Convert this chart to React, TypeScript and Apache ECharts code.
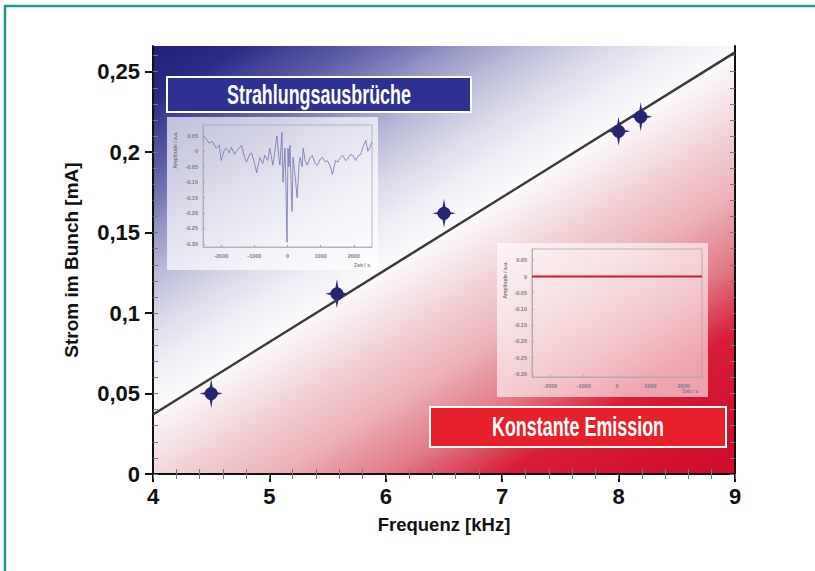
import React, { useEffect, useRef } from "react";
import * as echarts from "echarts";

// Main measurement data
const freqKHz = [4.5, 5.58, 6.5, 8.0, 8.19];
const currentMA = [0.05, 0.112, 0.162, 0.213, 0.222];
const freqErr = [0.1, 0.1, 0.1, 0.1, 0.1];
const currentErr = [0.009, 0.009, 0.009, 0.009, 0.009];

// Fit line end points
const fitX = [4, 9];
const fitY = [0.037, 0.262];

// Axis tick labels
const yTicks = [0, 0.05, 0.1, 0.15, 0.2, 0.25];

// Inset 1: burst signal (time, amplitude)
const burstTime = [
  -2547, -2455, -2364, -2272, -2150, -2059, -1998, -1906, -1845, -1754, -1693, -1601, -1540,
  -1449, -1388, -1296, -1235, -1144, -1083, -991, -930, -839, -747, -686, -595, -534, -442,
  -381, -320, -259, -229, -168, -137, -76, -46, -15, 15, 46, 76, 107, 137, 168, 229, 290, 351,
  381, 442, 473, 534, 595, 686, 747, 839, 900, 991, 1052, 1144, 1205, 1296, 1357, 1449, 1510,
  1601, 1662, 1754, 1815, 1906, 1967, 2059, 2120, 2211, 2272, 2364, 2425, 2486, 2547,
];
const burstAmp = [
  0.051, 0.04, 0.026, 0.032, 0.01, 0.02, -0.03, 0.005, 0.01, -0.005, 0.013, -0.01, 0.0,
  0.012, 0.019, -0.02, -0.035, -0.01, -0.006, -0.04, -0.07, -0.02, -0.04, -0.013, -0.03, 0.01,
  -0.045, 0.0, 0.05, -0.02, -0.045, 0.061, -0.1, 0.01, -0.12, -0.295, 0.01, -0.05, 0.019, -0.1,
  -0.195, -0.02, -0.08, -0.15, -0.04, -0.02, -0.05, 0.01, -0.03, -0.045, -0.02, -0.013, -0.04,
  -0.045, -0.025, -0.02, -0.035, -0.03, -0.05, -0.075, -0.03, -0.035, -0.02, -0.013, -0.03,
  -0.025, -0.01, -0.013, -0.03, -0.016, -0.01, 0.013, 0.035, 0.0, 0.013, 0.03,
];

// Inset 2: constant emission signal
const steadyTime = [-2550, -1000, 0, 1000, 2550];
const steadyAmp = [0, 0, 0, 0, 0];

// Inset tick labels
const insetXTicks = [-2000, -1000, 0, 1000, 2000];
const insetYTicks = [0.05, 0, -0.05, -0.1, -0.15, -0.2, -0.25, -0.3];

const FONT = "'Liberation Sans', Arial, sans-serif";

export default function App() {
  const ref = useRef<HTMLDivElement>(null);

  useEffect(() => {
    if (!ref.current) return;
    const chart = echarts.init(ref.current, null, { renderer: "svg" });

    const yMinorTicks: number[] = [];
    for (let i = 0; i <= 26; i++) yMinorTicks.push(i / 100);

    const pointData = freqKHz.map((f, i) => [f, currentMA[i], freqErr[i], currentErr[i]]);
    const fitData = fitX.map((x, i) => [x, fitY[i]]);
    const burstData = burstTime.map((t, i) => [t, burstAmp[i]]);
    const steadyData = steadyTime.map((t, i) => [t, steadyAmp[i]]);

    // vector chosen so iso-colour lines run parallel to the fit line
    const bg = new echarts.graphic.LinearGradient(0, 0, 0.899, 1.0835, [
      { offset: 0, color: "#202076" },
      { offset: 0.07, color: "#2c2c88" },
      { offset: 0.11, color: "#444496" },
      { offset: 0.15, color: "#5858a2" },
      { offset: 0.19, color: "#7272b2" },
      { offset: 0.24, color: "#9898c6" },
      { offset: 0.29, color: "#b8b8d8" },
      { offset: 0.35, color: "#d8d8ea" },
      { offset: 0.41, color: "#eeeef5" },
      { offset: 0.465, color: "#fbfafb" },
      { offset: 0.55, color: "#f3d6da" },
      { offset: 0.64, color: "#ecb2b8" },
      { offset: 0.73, color: "#e27a86" },
      { offset: 0.775, color: "#dc4c5e" },
      { offset: 0.82, color: "#d61e36" },
      { offset: 0.9, color: "#d21430" },
      { offset: 1, color: "#cc0c28" },
    ]);

    const insetLabel = { fontSize: 5.5, color: "#7a7a8a", fontFamily: "Arial, sans-serif", fontWeight: "bold" as const };
    const insetX = (gridIndex: number) => ({
      type: "value" as const,
      gridIndex,
      min: -2550,
      max: 2550,
      z: 3,
      axisLine: { show: true, onZero: false, lineStyle: { color: "#a8a8b0", width: 0.8 } },
      axisTick: { show: true, inside: true, length: 2, customValues: insetXTicks, lineStyle: { color: "#a8a8b0" } },
      axisLabel: { show: true, customValues: insetXTicks, margin: 6, ...insetLabel, formatter: (v: number) => String(v) },
      splitLine: { show: false },
    });
    const insetY = (gridIndex: number) => ({
      type: "value" as const,
      gridIndex,
      min: -0.31,
      max: 0.085,
      z: 3,
      axisLine: { show: true, onZero: false, lineStyle: { color: "#a8a8b0", width: 0.8 } },
      axisTick: { show: true, inside: true, length: 2, customValues: insetYTicks, lineStyle: { color: "#a8a8b0" } },
      axisLabel: { show: true, customValues: insetYTicks, margin: 5, ...insetLabel, formatter: (v: number) => (v === 0 ? "0" : v.toFixed(2)) },
      splitLine: { show: false },
    });

    const smallText = (text: string, x: number, y: number, rot: number) => ({
      type: "text", z: 6, x, y, rotation: rot,
      style: { text, x: 0, y: 0, align: "center", verticalAlign: "middle", textAlign: "center", textVerticalAlign: "middle", fill: "#7a7a8a", font: "bold 5px Arial, sans-serif" },
    });

    const option: any = {
      animation: false,
      backgroundColor: "#ffffff",
      grid: [
        { left: 153, top: 46, right: 80, bottom: 97, show: true, backgroundColor: bg, borderWidth: 0, z: 0 },
        { left: 153, top: 46, right: 80, bottom: 97, show: false, z: 1 },
        { left: 203, top: 125, right: 443, bottom: 324, show: true, backgroundColor: "transparent", borderColor: "#a8a8b0", borderWidth: 0.8, z: 3 },
        { left: 532, top: 249, right: 113, bottom: 194, show: true, backgroundColor: "transparent", borderColor: "#b8a0a4", borderWidth: 0.8, z: 3 },
      ],
      xAxis: [
        {
          type: "value",
          gridIndex: 0,
          position: "bottom",
          min: 4,
          max: 9,
          interval: 1,
          name: "Frequenz [kHz]",
          nameLocation: "middle",
          nameGap: 41,
          nameTextStyle: { fontSize: 18.5, fontWeight: "bold", color: "#111", fontFamily: FONT },
          axisLine: { show: true, lineStyle: { color: "#111", width: 2 } },
          axisTick: { show: true, inside: false, length: 8, lineStyle: { color: "#111", width: 2 } },
          axisLabel: { show: true, margin: 11, fontSize: 22, fontWeight: "bold", color: "#111", fontFamily: FONT },
          splitLine: { show: false },
        },
        {
          type: "value",
          gridIndex: 0,
          position: "top",
          min: 4,
          max: 9,
          interval: 1,
          axisLine: { show: true, lineStyle: { color: "#111", width: 2 } },
          axisTick: { show: true, inside: true, length: 5, lineStyle: { color: "#666", width: 1 } },
          minorTick: { show: true, splitNumber: 5, length: 5, lineStyle: { color: "#777", width: 1 } },
          axisLabel: { show: false },
          splitLine: { show: false },
        },
        {
          type: "value",
          gridIndex: 1,
          position: "bottom",
          min: 4,
          max: 9,
          interval: 1,
          axisLine: { show: false },
          axisTick: { show: false, inside: true },
          minorTick: { show: true, splitNumber: 5, length: 5, lineStyle: { color: "#777", width: 1 } },
          axisLabel: { show: false },
          splitLine: { show: false },
        },
        insetX(2),
        insetX(3),
      ],
      yAxis: [
        {
          type: "value",
          gridIndex: 0,
          position: "left",
          min: 0,
          max: 0.266,
          name: "Strom im Bunch [mA]",
          nameLocation: "middle",
          nameGap: 72,
          nameTextStyle: { fontSize: 19, fontWeight: "bold", color: "#111", fontFamily: FONT },
          axisLine: { show: true, lineStyle: { color: "#111", width: 2 } },
          axisTick: { show: true, inside: false, length: 8, customValues: yTicks, lineStyle: { color: "#111", width: 2 } },
          axisLabel: {
            show: true,
            customValues: yTicks,
            margin: 13,
            fontSize: 22,
            fontWeight: "bold",
            color: "#111",
            fontFamily: FONT,
            formatter: (v: number) => String(v).replace(".", ","),
          },
          splitLine: { show: false },
        },
        {
          type: "value",
          gridIndex: 0,
          position: "right",
          min: 0,
          max: 0.266,
          axisLine: { show: true, lineStyle: { color: "#111", width: 2 } },
          axisTick: { show: true, inside: true, length: 5, customValues: yMinorTicks, lineStyle: { color: "#777", width: 1 } },
          axisLabel: { show: false },
          splitLine: { show: false },
        },
        {
          type: "value",
          gridIndex: 1,
          position: "left",
          min: 0,
          max: 0.266,
          axisLine: { show: false },
          axisTick: { show: true, inside: true, length: 5, customValues: yMinorTicks, lineStyle: { color: "#777", width: 1 } },
          axisLabel: { show: false },
          splitLine: { show: false },
        },
        insetY(2),
        insetY(3),
      ],
      graphic: [
        { type: "rect", z: 0, shape: { x: 5, y: 6, width: 900, height: 700 }, style: { fill: "none", stroke: "#1a9a8c", lineWidth: 2.5 } },
        { type: "rect", z: 1, shape: { x: 167, y: 117, width: 211, height: 153 }, style: { fill: "rgba(255,255,255,0.68)" } },
        { type: "rect", z: 1, shape: { x: 497, y: 243, width: 211, height: 154 }, style: { fill: "rgba(255,255,255,0.6)" } },
        { type: "rect", z: 5, shape: { x: 167, y: 77, width: 304, height: 35 }, style: { fill: "#2e3192", stroke: "#ffffff", lineWidth: 2 } },
        {
          type: "text", z: 6, x: 319, y: 95, scaleX: 0.663,
          style: { text: "Strahlungsausbrüche", x: 0, y: 0, align: "center", verticalAlign: "middle", textAlign: "center", textVerticalAlign: "middle", fill: "#ffffff", font: `bold 27px ${FONT}` },
        },
        { type: "rect", z: 5, shape: { x: 430, y: 407, width: 296, height: 40 }, style: { fill: "#e8202a", stroke: "#ffffff", lineWidth: 2 } },
        {
          type: "text", z: 6, x: 578, y: 427, scaleX: 0.663,
          style: { text: "Konstante Emission", x: 0, y: 0, align: "center", verticalAlign: "middle", textAlign: "center", textVerticalAlign: "middle", fill: "#ffffff", font: `bold 27px ${FONT}` },
        },
        smallText("Amplitude / a.u.", 175, 150, Math.PI / 2),
        smallText("Amplitude / a.u.", 505, 280, Math.PI / 2),
        smallText("Zeit / s", 362, 265, 0),
        smallText("Zeit / s", 690, 391, 0),
      ],
      series: [
        {
          type: "line",
          xAxisIndex: 0,
          yAxisIndex: 0,
          data: fitData,
          symbol: "none",
          z: 2,
          lineStyle: { color: "#3a3a3a", width: 2.5 },
        },
        {
          type: "custom",
          xAxisIndex: 0,
          yAxisIndex: 0,
          z: 4,
          data: pointData,
          renderItem: (params: any, api: any) => {
            const x = api.value(0);
            const y = api.value(1);
            const ex = api.value(2);
            const ey = api.value(3);
            const c = api.coord([x, y]);
            const l = api.coord([x - ex, y]);
            const r = api.coord([x + ex, y]);
            const t = api.coord([x, y + ey]);
            const b = api.coord([x, y - ey]);
            const w = 2.2;
            return {
              type: "group",
              children: [
                {
                  type: "polygon",
                  shape: {
                    points: [
                      [l[0], l[1]], [c[0] - w, c[1] - w], [t[0], t[1]], [c[0] + w, c[1] - w],
                      [r[0], r[1]], [c[0] + w, c[1] + w], [b[0], b[1]], [c[0] - w, c[1] + w],
                    ],
                  },
                  style: { fill: "#2c2c7c" },
                },
                { type: "circle", shape: { cx: c[0], cy: c[1], r: 6.5 }, style: { fill: "#252572" } },
              ],
            };
          },
        },
        {
          type: "line",
          xAxisIndex: 3,
          yAxisIndex: 3,
          data: burstData,
          symbol: "none",
          z: 4,
          lineStyle: { color: "#7474b4", width: 0.8 },
        },
        {
          type: "line",
          xAxisIndex: 4,
          yAxisIndex: 4,
          data: steadyData,
          symbol: "none",
          z: 4,
          lineStyle: { color: "#c41e2c", width: 2 },
        },
      ],
    };

    chart.setOption(option);
    return () => chart.dispose();
  }, []);

  return <div ref={ref} style={{ position: "absolute", left: 0, top: 0, width: 815, height: 571 }} />;
}
